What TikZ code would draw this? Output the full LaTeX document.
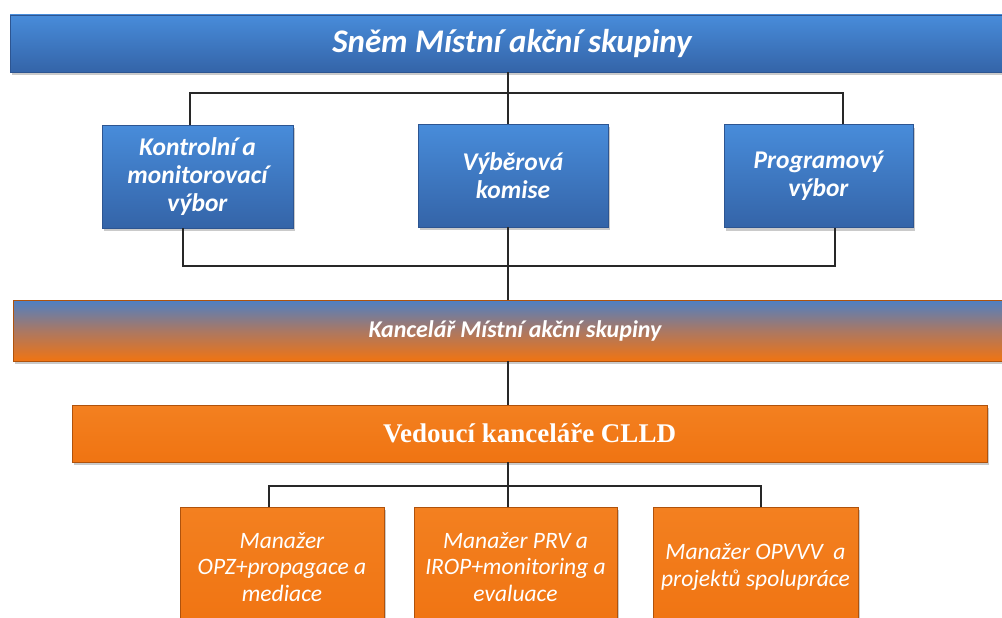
\documentclass[tikz,border=0pt]{standalone}
\usepackage{fontspec}
\setmainfont{Carlito}
\newfontfamily\cambr{Liberation Serif}
\usetikzlibrary{positioning, shadows, calc}
\definecolor{mblue}{RGB}{72,140,218}
\definecolor{dblue}{RGB}{52,100,168}
\definecolor{eblue}{RGB}{45,85,145}
\definecolor{kblue}{RGB}{78,128,196}
\definecolor{kmid}{RGB}{170,120,100}
\definecolor{morange}{RGB}{240,116,18}
\definecolor{lorange}{RGB}{243,128,32}
\definecolor{dorange}{RGB}{175,82,12}
\definecolor{lnkgray}{RGB}{40,40,40}
\tikzset{
  shd/.style={drop shadow={shadow xshift=2pt, shadow yshift=-3pt,
    opacity=0.35, fill=black!60}},
  barB/.style={rectangle, draw=eblue, top color=mblue, bottom color=dblue,
    text=white, shd, inner sep=0pt,
    font=\bfseries\itshape\fontsize{33}{38}\selectfont},
  barK/.style={rectangle, draw=dorange, top color=kblue, bottom color=morange,
    middle color=kmid, text=white, shd, inner sep=0pt,
    font=\bfseries\itshape\fontsize{24}{28}\selectfont},
  barO/.style={rectangle, draw=dorange, top color=lorange, bottom color=morange,
    text=white, shd, inner sep=0pt,
    font=\cambr\bfseries\fontsize{27}{32}\selectfont},
  blkB/.style={rectangle, draw=eblue, top color=mblue, bottom color=dblue,
    text=white, shd, align=center, inner sep=0pt,
    minimum height=103pt,
    font=\bfseries\itshape\fontsize{25.5}{28}\selectfont},
  blkO/.style={rectangle, draw=dorange, top color=lorange, bottom color=morange,
    text=white, shd, align=center, inner sep=0pt,
    minimum height=120pt,
    font=\itshape\fontsize{23.5}{26.5}\selectfont},
  lnk/.style={draw=lnkgray, line width=1.3pt},
}

\begin{document}
\begin{tikzpicture}[x=1pt, y=-1pt]
  \useasboundingbox (0,0) rectangle (1002,618);

  % Assembly
  \node[barB, minimum width=1004pt, minimum height=57pt] (snem)
       at (512,43.5) {Sněm Místní akční skupiny};

  % Committees
  \node[blkB, minimum width=191pt] (kontrol) at (197.5,176.5)
       {Kontrolní a\\monitorovací\\výbor};
  \node[blkB, minimum width=190pt] (komise) at (513,175.5)
       {Výběrová\\komise};
  \node[blkB, minimum width=189pt] (program) at (818.5,176)
       {Programový\\výbor};

  % Office
  \node[barK, minimum width=1004pt, minimum height=61pt] (kanc)
       at (515,330.5) {Kancelář Místní akční skupiny};
  \node[barO, minimum width=915pt, minimum height=57pt] (ved)
       at (529.5,433.5) {Vedoucí kanceláře CLLD};

  % Managers
  \node[blkO, minimum width=204pt] (man1) at (282,567)
       {Manažer\\OPZ+propagace a\\mediace};
  \node[blkO, minimum width=203pt] (man2) at (515.5,567)
       {Manažer PRV a\\IROP+monitoring a\\evaluace};
  \node[blkO, minimum width=205pt] (man3) at (755.5,567)
       {Manažer OPVVV\ \ a\\projektů spolupráce};

  % Connectors
  \coordinate (busT) at (508,93);
  \coordinate (busM) at (508,266);
  \coordinate (busB) at (508,486);
  \draw[lnk] (busT |- snem.south) -- (busT |- komise.north);
  \draw[lnk] ([xshift=-7.5pt]kontrol.north) |- (busT)
       -| ([xshift=24.5pt]program.north);
  \draw[lnk] (busT |- komise.south) -- (busT |- kanc.north);
  \draw[lnk] ([xshift=-14.5pt]kontrol.south) |- (busM)
       -| ([xshift=16.5pt]program.south);
  \draw[lnk] (busT |- kanc.south) -- (busT |- ved.north);
  \draw[lnk] (busT |- ved.south) -- (busB) -- (busB |- man2.north);
  \draw[lnk] ([xshift=-13pt]man1.north) |- (busB)
       -| ([xshift=5.5pt]man3.north);
\end{tikzpicture}
\end{document}
